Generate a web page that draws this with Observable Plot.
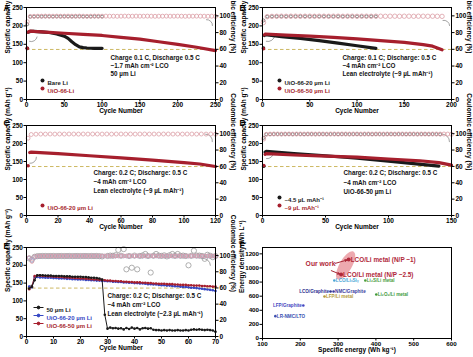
<!DOCTYPE html>
<html><head><meta charset="utf-8">
<script src="https://cdn.jsdelivr.net/npm/d3@7"></script>
<script src="https://cdn.jsdelivr.net/npm/@observablehq/plot@0.6"></script>
<style>
body{margin:0;background:#fff;}
#fig{position:relative;width:473px;height:357px;overflow:hidden;background:#fff;}
.panel{position:absolute;}
.panel svg{display:block;overflow:visible;}
#fig svg, #fig svg text{font-family:"Liberation Sans", Arial, Helvetica, sans-serif !important;}
</style></head><body><div id="fig"></div>
<script>
// ---------------- DATA ----------------
const capTicks = [0, 50, 100, 150, 200, 250];
const ceTicks = [0, 20, 40, 60, 80, 100];
const ceAxisTop = 110;          // right axis top (Coulombic efficiency, %)
const retention = 136;          // dashed reference line (mAh g-1)

// Panel A  [cycle, capacity]
const capA_bare = [[1,139],[2,183],[5,185],[10,185],[20,184],[30,182],[40,178],[50,172],[55,166],[60,157],[65,149],[70,143],[75,141],[80,140],[90,139],[100,139]];
const capA_uio  = [[1,139],[2,183],[5,186],[10,185],[25,183],[50,180],[75,177],[100,174],[125,169],[150,164],[175,157],[200,150],[225,142],[250,133]];
// CE readings: cycle 1, then every 5th cycle
const ceA_bare = [90.0, 99.0,99.2,99.3,99.2,99.3,99.3,99.2,99.3,99.2,99.3, 99.3,99.2,99.3,99.3,99.2,99.3,99.2,99.3,99.3,99.2];
const ceA_uio = [93.0,
 99.3,99.5,99.6,99.6,99.7,99.6,99.6,99.7,99.6,99.6,
 99.7,99.6,99.6,99.7,99.6,99.5,99.6,99.7,99.6,99.6,
 99.7,99.6,99.6,99.5,99.6,99.7,99.6,99.6,99.7,99.6,
 99.6,99.7,99.6,99.5,99.6,99.6,99.7,99.6,99.6,99.7,
 99.6,99.5,99.6,99.6,99.7,99.6,99.6,99.5,99.6,99.4];

// Panel B
const capB_20 = [[1,140],[2,174],[3,176],[20,171],[40,166],[60,160],[80,153],[100,146],[120,139]];
const capB_50 = [[1,138],[2,176],[3,178],[25,175],[50,172],[75,169],[100,165],[125,160],[150,155],[170,149],[180,145],[190,135]];
const ceB_20 = [94.5, 99.1,99.3,99.3,99.4,99.3,99.4,99.3,99.4,99.4,99.3, 99.4,99.3,99.4,99.4,99.3,99.4,99.3,99.4,99.4,99.3, 99.4,99.3,99.4,99.3];
const ceB_50 = [92.0, 99.0,99.4,99.5,99.6,99.5,99.6,99.6,99.5,99.6,99.6, 99.5,99.6,99.6,99.5,99.6,99.6,99.5,99.6,99.6,99.5,
 99.6,99.6,99.5,99.6,99.6,99.5,99.6,99.6,99.5,99.6, 99.6,99.5,99.6,99.6,99.5,99.6,99.5,99.4];

// Panel C (CE every 3rd cycle)
const capC_20 = [[1,138],[2,175],[3,176],[20,172],[40,166],[60,160],[80,154],[100,147],[110,143],[120,136]];
const ceC_20 = [94.5, 99.0,99.4,99.5,99.5,99.6,99.5,99.6,99.5,99.6,99.6, 99.5,99.6,99.5,99.6,99.6,99.5,99.6,99.5,99.6,99.6,
 99.5,99.6,99.5,99.6,99.6,99.5,99.6,99.5,99.6,99.6, 99.5,99.6,99.5,99.6,99.6,99.5,99.6,99.5,99.6,99.4];

// Panel D (CE every 3rd cycle)
const capD_45 = [[1,137],[2,176],[3,178],[25,172],[50,166],[75,159],[100,151],[120,144],[140,137]];
const capD_9  = [[1,139],[2,170],[3,172],[25,168],[50,165],[75,162],[100,157],[125,152],[140,147],[150,140]];
const ceD_45 = [95.0,
 99.3,99.4,99.5,99.5,99.4,99.5,99.5,99.4,99.5,99.5,
 99.4,99.5,99.5,99.4,99.5,99.5,99.4,99.5,99.5,99.4,
 99.5,99.5,99.4,99.5,99.5,99.4,99.5,99.5,99.4,99.5,
 99.5,99.4,99.5,99.5,99.4,99.5,99.5,99.4,99.5,99.5,
 99.4,99.5,99.5,99.4,99.5,99.4,99.3];
const ceD_9 = [93.5,
 99.2,99.5,99.6,99.6,99.5,99.6,99.6,99.5,99.6,99.6,
 99.5,99.6,99.6,99.5,99.6,99.6,99.5,99.6,99.6,99.5,
 99.6,99.6,99.5,99.6,99.6,99.5,99.6,99.6,99.5,99.6,
 99.6,99.5,99.6,99.6,99.5,99.6,99.6,99.5,99.6,99.6,
 99.5,99.6,99.6,99.5,99.6,99.6,99.5,99.6,99.5,99.3];

// Panel E (every cycle 1..70)
const capE_50li = [135,140,158,172,172,172,171,171,171,170, 170,170,170,169,169,169,168,168,168,168,
 167,167,166,165,165,164,163,160,61,22, 25,23,24,22,23,20,24,21,25,22,
 24,20,23,24,22,23,19,18,18,17, 18,17,18,17,17,18,17,17,18,17, 19,20,19,20,19,18,19,18,17,13];
const capE_20 = [140,138,167,167,166,166,165,165,165,164, 164,163,163,163,162,162,161,161,160,160,
 160,159,159,158,158,157,157,156,156,155, 155,154,154,153,153,152,152,151,151,150,
 150,149,149,148,147,147,146,146,145,144, 144,143,143,142,141,141,140,139,139,138, 137,137,136,135,134,133,132,131,130,128];
const capE_50 = [133,140,170,171,171,170,170,169,169,168, 168,167,167,166,166,165,165,164,164,163,
 163,162,162,161,160,160,159,159,158,157, 157,156,156,155,155,154,154,153,153,152,
 152,152,151,151,150,150,149,149,148,148, 148,147,147,147,146,146,145,145,145,144, 144,143,143,143,142,142,141,141,140,140];
const ceE_50li = [96.5,95.0,98.5,99.3,99.4,99.5,99.5,99.4,99.5,99.5, 99.4,99.5,99.5,99.4,99.5,99.5,99.4,99.5,99.5,99.4,
 99.5,99.5,99.4,99.5,99.4,99.5,99.3,99.0,null,99.5, 100.0,99.8,100.5,107.0,99.8,108.0,83.0,99.5,85.0,100.0,
 83.0,99.6,100.2,102.0,99.5,79.0,99.8,102.0,100.0,99.6, 100.3,99.0,100.4,102.0,99.6,102.0,99.8,100.0,99.5,88.0,
 99.7,106.0,100.0,100.0,99.6,96.0,101.0,99.8,98.0,99.5];
const ceE_20 = [97.0,94.0,98.3,99.0,99.2,99.3,99.3,99.4,99.3,99.4, 99.4,99.3,99.4,99.4,99.5,99.4,99.3,99.4,99.4,99.5,
 99.4,99.4,99.3,99.4,99.5,99.4,99.4,99.3,99.4,99.5, 99.4,99.4,99.3,99.4,99.5,99.4,99.4,99.3,99.4,99.4,
 99.5,99.4,99.3,99.4,99.4,99.5,99.4,99.4,99.3,99.4, 99.4,99.5,99.4,99.3,99.4,99.4,99.5,99.4,99.4,99.3,
 99.4,99.4,99.5,99.4,99.3,99.4,99.4,99.3,99.4,99.2];
const ceE_50 = [97.5,92.5,98.6,99.2,99.4,99.5,99.5,99.6,99.5,99.6, 99.6,99.5,99.6,99.6,99.7,99.6,99.5,99.6,99.6,99.7,
 99.6,99.6,99.5,99.6,99.7,99.6,99.6,99.5,99.6,99.7, 99.6,99.6,99.5,99.6,99.7,99.6,99.6,99.5,99.6,99.6,
 99.7,99.6,99.5,99.6,99.6,99.7,99.6,99.6,99.5,99.6, 99.6,99.7,99.6,99.5,99.6,99.6,99.7,99.6,99.6,99.5,
 99.6,99.6,99.7,99.6,99.5,99.6,99.6,99.5,99.6,99.4];

// Panel F
const fSystems = ["LCO/Li metal (N/P ~1)","LCO/Li metal (N/P ~2.5)","LCO/LiₓSiᵧ","Li₂S/Li metal","LCO/Graphite","NMC/Graphite","LFP/Li metal","Li₂O₂/Li metal","LFP/Graphite","LR-NMC/LTO"];
const fEnergy  = [328, 308, 290, 372, 280, 288, 264, 401, 208, 134];   // Wh kg-1
const fDensity = [1119, 908, 822, 822, 666, 666, 595, 623, 467, 317];  // Wh L-1
const fColors  = ["#b0283a","#b0283a","#4aa6d6","#4a9e3e","#2d2f8f","#3a3a9e","#b39a3a","#3e9a3c","#4646c0","#3b4fb0"];
const fSide    = ["right","right","right","right","left","right","right","right","left","right"];
const fBig     = [true,true,false,false,false,false,false,false,false,false];
const fOurWork = {x: 320, y: 1035};
const fOurWorkLabel = {x: 214, y: 1052, t: "Our work"};
const fArrows = [{x1:293,y1:1066,x2:324,y2:1113},{x1:282,y1:962,x2:304,y2:914}];
const fXTicks = [100,200,300,400,500,600];
const fYTicks = [0,200,400,600,800,1000,1200];

// ---------------- STYLE ----------------
const FONT = "Liberation Sans, Arial, Helvetica, sans-serif";
const RED = "#a61f2d", PINK = "#dc9ea6", BLACK = "#1a1a1a", DARKCE = "#4d4d4d", BLUE = "#3547c4", LBLUE = "#9aa3dc";
const DASHC = "#cdb862", ARC = "#8c8c8c", GRAYCE = "#9a9a9a";
const K = 250 / ceAxisTop;
const TITLE = 6.5;

const pairs = a => a.map(([c, v]) => ({c, v}));
const seq = a => a.map((v, i) => ({c: i + 1, v})).filter(d => d.v != null);
const sampled = (a, step) => a.map((v, i) => ({c: i === 0 ? 1 : i * step, v}));

function txt(s, o) { return Plot.text([s], {text: d => d, ...o}); }

function cyclePanel(L, o) {
  const marks = [Plot.ruleY([retention], {stroke: DASHC, strokeWidth: 1, strokeDasharray: "3.5,2.5"})];
  for (const a of o.arcs) marks.push(Plot.arrow([a], {x1: "x1", y1: "y1", x2: "x2", y2: "y2", bend: a.bend, headLength: 0, stroke: ARC, strokeWidth: 0.8}));
  for (const s of o.ce) marks.push(Plot.dot(s.data, {x: "c", y: d => d.v * K, r: s.r, stroke: s.color, strokeWidth: s.sw ?? 0.8, fill: "none"}));
  for (const s of o.cap) {
    if (s.thin) {
      marks.push(Plot.line(s.data, {x: "c", y: "v", stroke: s.color, strokeWidth: 1}));
      marks.push(Plot.dot(s.data, {x: "c", y: "v", fill: s.color, r: 1.3}));
    } else {
      marks.push(Plot.line(s.data.filter(d => d.c > 1), {x: "c", y: "v", stroke: s.color, strokeWidth: 3.2, strokeLinecap: "round", strokeLinejoin: "round"}));
      marks.push(Plot.dot(s.data.filter(d => d.c === 1), {x: "c", y: "v", fill: s.color, r: 1.8}));
    }
  }
  // legend
  o.legend.forEach((g, i) => {
    const dy = o.legendDy + i * o.legendGap;
    if (o.lineLegend) {
      marks.push(Plot.dot([0], {frameAnchor: "top-left", dx: o.legendDx, dy, symbol: lineDot, r: 2, stroke: g.color, fill: g.color, strokeWidth: 1}));
      marks.push(txt(g.label, {frameAnchor: "top-left", dx: o.legendDx + 8, dy, textAnchor: "start", fill: g.text, fontSize: 6, fontWeight: "bold"}));
    } else {
      marks.push(Plot.dot([0], {frameAnchor: "top-left", dx: o.legendDx, dy, r: 2, fill: g.color}));
      marks.push(txt(g.label, {frameAnchor: "top-left", dx: o.legendDx + 5, dy, textAnchor: "start", fill: g.text, fontSize: 6, fontWeight: "bold"}));
    }
  });
  // note
  marks.push(txt(o.note.join("\n"), {frameAnchor: "top-left", dx: o.noteDx, dy: o.noteDy, textAnchor: "start", lineAnchor: "top", lineHeight: o.noteLH, fontSize: 6.3, fontWeight: "bold", fill: "#111"}));
  marks.push(
    Plot.frame({stroke: "#000", strokeWidth: 1}),
    Plot.axisX({ticks: o.xTicks, tickSize: 2.5, tickPadding: 0, label: null, tickFormat: d => String(d)}),
    Plot.axisY({anchor: "left", ticks: capTicks, tickSize: 2.5, tickPadding: 1, label: null, tickFormat: d => String(d)}),
    Plot.axisY({anchor: "right", ticks: ceTicks.map(v => v * K), tickSize: 2.5, tickPadding: 1.5, label: null, tickFormat: v => String(Math.round(v / K))}),
    txt("Cycle Number", {frameAnchor: "bottom", dy: o.xTitleDy, fontSize: TITLE, fontWeight: "bold"}),
    txt("Specific capacity (mAh g⁻¹)", {frameAnchor: "left", dx: -19, rotate: -90, fontSize: TITLE, fontWeight: "bold"}),
    txt("Coulombic efficiency (%)", {frameAnchor: "right", dx: 17.5, rotate: 90, fontSize: TITLE, fontWeight: "bold"}),
    txt(o.letter, {frameAnchor: "top-left", dx: L.lx - 26, dy: L.ly - L.mt, textAnchor: "start", fontSize: 8.5, fontWeight: "bold"})
  );
  return Plot.plot({
    width: L.width, height: L.height, marginLeft: 26, marginRight: L.mr, marginTop: L.mt, marginBottom: L.mb,
    x: {domain: o.xDomain}, y: {domain: [0, 250]},
    style: {fontFamily: FONT, fontSize: "6.5px", fontWeight: "bold", color: "#000", background: "transparent", overflow: "visible"},
    marks
  });
}

const lineDot = {draw(ctx) { ctx.moveTo(-5, 0); ctx.lineTo(5, 0); ctx.moveTo(1.4, 0); ctx.arc(0, 0, 1.4, 0, 2 * Math.PI); }};
const ellipseSym = {draw(ctx) {
  const a = 16, b = 6.2, t = -60 * Math.PI / 180, k = 0.5523;
  const P = (u, v) => [u * Math.cos(t) - v * Math.sin(t), u * Math.sin(t) + v * Math.cos(t)];
  ctx.moveTo(...P(a, 0));
  ctx.bezierCurveTo(...P(a, k * b), ...P(k * a, b), ...P(0, b));
  ctx.bezierCurveTo(...P(-k * a, b), ...P(-a, k * b), ...P(-a, 0));
  ctx.bezierCurveTo(...P(-a, -k * b), ...P(-k * a, -b), ...P(0, -b));
  ctx.bezierCurveTo(...P(k * a, -b), ...P(a, -k * b), ...P(a, 0));
  ctx.closePath();
}};

const layout = {
  A: {left: 0, top: 0, width: 236, height: 115, mt: 7, mb: 16, mr: 21, lx: 3, ly: 4},
  B: {left: 236, top: 0, width: 237, height: 115, mt: 7, mb: 16, mr: 22, lx: 3, ly: 4},
  C: {left: 0, top: 115, width: 236, height: 117, mt: 10, mb: 17, mr: 21, lx: 3, ly: 4},
  D: {left: 236, top: 115, width: 237, height: 117, mt: 10, mb: 17, mr: 22, lx: 3, ly: 4},
  E: {left: 0, top: 232, width: 236, height: 125, mt: 15, mb: 21, mr: 21, lx: 3, ly: 10},
  F: {left: 236, top: 232, width: 237, height: 125, mt: 15, mb: 19, mr: 22, lx: 3, ly: 9}
};

const fig = document.getElementById("fig");
function place(L, node) {
  const d = document.createElement("div");
  d.className = "panel";
  d.style.left = L.left + "px"; d.style.top = L.top + "px";
  d.appendChild(node); fig.appendChild(d);
}

place(layout.A, cyclePanel(layout.A, {
  letter: "A", xDomain: [0, 250], xTicks: [0, 50, 100, 150, 200, 250], xTitleDy: 13,
  arcs: [{x1: 14, y1: 170, x2: 4, y2: 158, bend: 50}, {x1: 238, y1: 217, x2: 246, y2: 201, bend: 50}],
  ce: [{data: sampled(ceA_bare, 5), color: DARKCE, r: 1.5, sw: 0.7}, {data: sampled(ceA_uio, 5), color: PINK, r: 2}],
  cap: [{data: pairs(capA_bare), color: BLACK}, {data: pairs(capA_uio), color: RED}],
  legend: [{label: "Bare Li", color: BLACK, text: BLACK}, {label: "UiO-66-Li", color: RED, text: RED}],
  legendDx: 16, legendDy: 73, legendGap: 8,
  note: ["Charge 0.1 C, Discharge 0.5 C", "~1.7 mAh cm⁻² LCO", "50 µm Li"], noteDx: 84, noteDy: 46.5, noteLH: 1.3
}));

place(layout.B, cyclePanel(layout.B, {
  letter: "B", xDomain: [0, 200], xTicks: [0, 50, 100, 150, 200], xTitleDy: 13,
  arcs: [{x1: 13, y1: 174, x2: 4, y2: 158, bend: 50}, {x1: 191, y1: 215, x2: 198, y2: 201, bend: 50}],
  ce: [{data: sampled(ceB_20, 5), color: DARKCE, r: 1.5, sw: 0.7}, {data: sampled(ceB_50, 5), color: PINK, r: 2.2}],
  cap: [{data: pairs(capB_20), color: BLACK}, {data: pairs(capB_50), color: RED}],
  legend: [{label: "UiO-66-20 µm Li", color: BLACK, text: BLACK}, {label: "UiO-66-50 µm Li", color: RED, text: RED}],
  legendDx: 17, legendDy: 73, legendGap: 8,
  note: ["Charge: 0.1 C; Discharge: 0.5 C", "~4 mAh cm⁻² LCO", "Lean electrolyte (~9 µL mAh⁻¹)"], noteDx: 80, noteDy: 46.5, noteLH: 1.3
}));

place(layout.C, cyclePanel(layout.C, {
  letter: "C", xDomain: [0, 120], xTicks: [0, 20, 40, 60, 80, 100, 120], xTitleDy: 13.3,
  arcs: [{x1: 6.3, y1: 162, x2: 2.1, y2: 145, bend: 50}, {x1: 113.7, y1: 226, x2: 118, y2: 205, bend: 50}],
  ce: [{data: sampled(ceC_20, 3), color: PINK, r: 2}],
  cap: [{data: pairs(capC_20), color: RED}],
  legend: [{label: "UiO-66-20 µm Li", color: RED, text: RED}],
  legendDx: 16, legendDy: 80, legendGap: 8,
  note: ["Charge: 0.2 C; Discharge: 0.5 C", "~4 mAh cm⁻² LCO", "Lean electrolyte (~9 µL mAh⁻¹)"], noteDx: 67, noteDy: 43.5, noteLH: 1.4
}));

place(layout.D, cyclePanel(layout.D, {
  letter: "D", xDomain: [0, 150], xTicks: [0, 50, 100, 150], xTitleDy: 13.3,
  arcs: [{x1: 8.7, y1: 175, x2: 3.2, y2: 158, bend: 50}, {x1: 142, y1: 226, x2: 148.4, y2: 205, bend: 50}],
  ce: [{data: sampled(ceD_45, 3), color: DARKCE, r: 1.5, sw: 0.7}, {data: sampled(ceD_9, 3), color: PINK, r: 2}],
  cap: [{data: pairs(capD_45), color: BLACK}, {data: pairs(capD_9), color: RED}],
  legend: [{label: "~4.5 µL mAh⁻¹", color: BLACK, text: BLACK}, {label: "~9 µL mAh⁻¹", color: RED, text: RED}],
  legendDx: 17, legendDy: 72, legendGap: 8,
  note: ["Charge: 0.2 C; Discharge: 0.5 C", "~4 mAh cm⁻² LCO", "UiO-66-50 µm Li"], noteDx: 81, noteDy: 43.5, noteLH: 1.45
}));

place(layout.E, cyclePanel(layout.E, {
  letter: "E", xDomain: [0, 70], xTicks: [0, 10, 20, 30, 40, 50, 60, 70], xTitleDy: 13.3,
  arcs: [{x1: 2.7, y1: 161, x2: 0.9, y2: 142, bend: 50}, {x1: 65, y1: 219, x2: 68.1, y2: 200, bend: 50}],
  ce: [{data: seq(ceE_50li), color: GRAYCE, r: 2.6, sw: 0.8}, {data: seq(ceE_20), color: LBLUE, r: 1.8}, {data: seq(ceE_50), color: PINK, r: 1.8}],
  cap: [{data: seq(capE_20), color: BLUE, thin: true}, {data: seq(capE_50), color: RED, thin: true}, {data: seq(capE_50li), color: BLACK, thin: true}],
  lineLegend: true,
  legend: [{label: "50 µm Li", color: BLACK, text: BLACK}, {label: "UiO-66-20 µm Li", color: BLUE, text: BLUE}, {label: "UiO-66-50 µm Li", color: RED, text: RED}],
  legendDx: 12, legendDy: 60, legendGap: 8,
  note: ["Charge: 0.2 C; Discharge: 0.5 C", "~4 mAh cm⁻² LCO", "Lean electrolyte (~2.3 µL mAh⁻¹)"], noteDx: 81, noteDy: 44.5, noteLH: 1.4
}));

// Panel F
(function () {
  const L = layout.F;
  const pts = fSystems.map((n, i) => ({n, x: fEnergy[i], y: fDensity[i], c: fColors[i], side: fSide[i], big: fBig[i]}));
  const big = pts.filter(d => d.big), small = pts.filter(d => !d.big);
  const chart = Plot.plot({
    width: L.width, height: L.height, marginLeft: 26, marginRight: L.mr, marginTop: L.mt, marginBottom: L.mb,
    x: {domain: [100, 600]}, y: {domain: [0, 1290]}, color: {type: "identity"},
    style: {fontFamily: FONT, fontSize: "6.2px", fontWeight: "bold", color: "#000", background: "transparent", overflow: "visible"},
    marks: [
      Plot.dot([fOurWork], {x: "x", y: "y", symbol: ellipseSym, r: 5, fill: "#e6858d", fillOpacity: 0.7}),
      Plot.arrow(fArrows, {x1: "x1", y1: "y1", x2: "x2", y2: "y2", stroke: "#a82735", strokeWidth: 1, headLength: 3.5, headAngle: 50}),
      Plot.text([fOurWorkLabel], {x: "x", y: "y", text: "t", textAnchor: "start", fill: "#b0283a", fontSize: 6.8, fontWeight: "bold"}),
      Plot.dot(big, {x: "x", y: "y", fill: "c", r: 2}),
      Plot.dot(small, {x: "x", y: "y", fill: "c", r: 1.3}),
      Plot.text(big, {x: "x", y: "y", text: "n", fill: "c", textAnchor: "start", dx: 2, fontSize: 6.4, fontWeight: "bold"}),
      Plot.text(small.filter(d => d.side === "right"), {x: "x", y: "y", text: "n", fill: "c", textAnchor: "start", dx: 1.5, fontSize: 4.6, fontWeight: "bold"}),
      Plot.text(small.filter(d => d.side === "left"), {x: "x", y: "y", text: "n", fill: "c", textAnchor: "end", dx: -1.5, fontSize: 4.6, fontWeight: "bold"}),
      Plot.frame({stroke: "#000", strokeWidth: 1}),
      Plot.axisX({ticks: fXTicks, tickSize: 2.5, tickPadding: 0.5, label: null, tickFormat: d => String(d)}),
      Plot.axisY({ticks: fYTicks, tickSize: 2.5, tickPadding: 1, label: null, tickFormat: d => String(d)}),
      txt("Specific energy (Wh kg⁻¹)", {frameAnchor: "bottom", dy: 13.2, fontSize: TITLE, fontWeight: "bold"}),
      txt("Energy density (Wh L⁻¹)", {frameAnchor: "left", dx: -20.5, rotate: -90, fontSize: TITLE, fontWeight: "bold"}),
      txt("F", {frameAnchor: "top-left", dx: L.lx - 26, dy: L.ly - L.mt, textAnchor: "start", fontSize: 8.5, fontWeight: "bold"})
    ]
  });
  place(L, chart);
})();
</script></body></html>
